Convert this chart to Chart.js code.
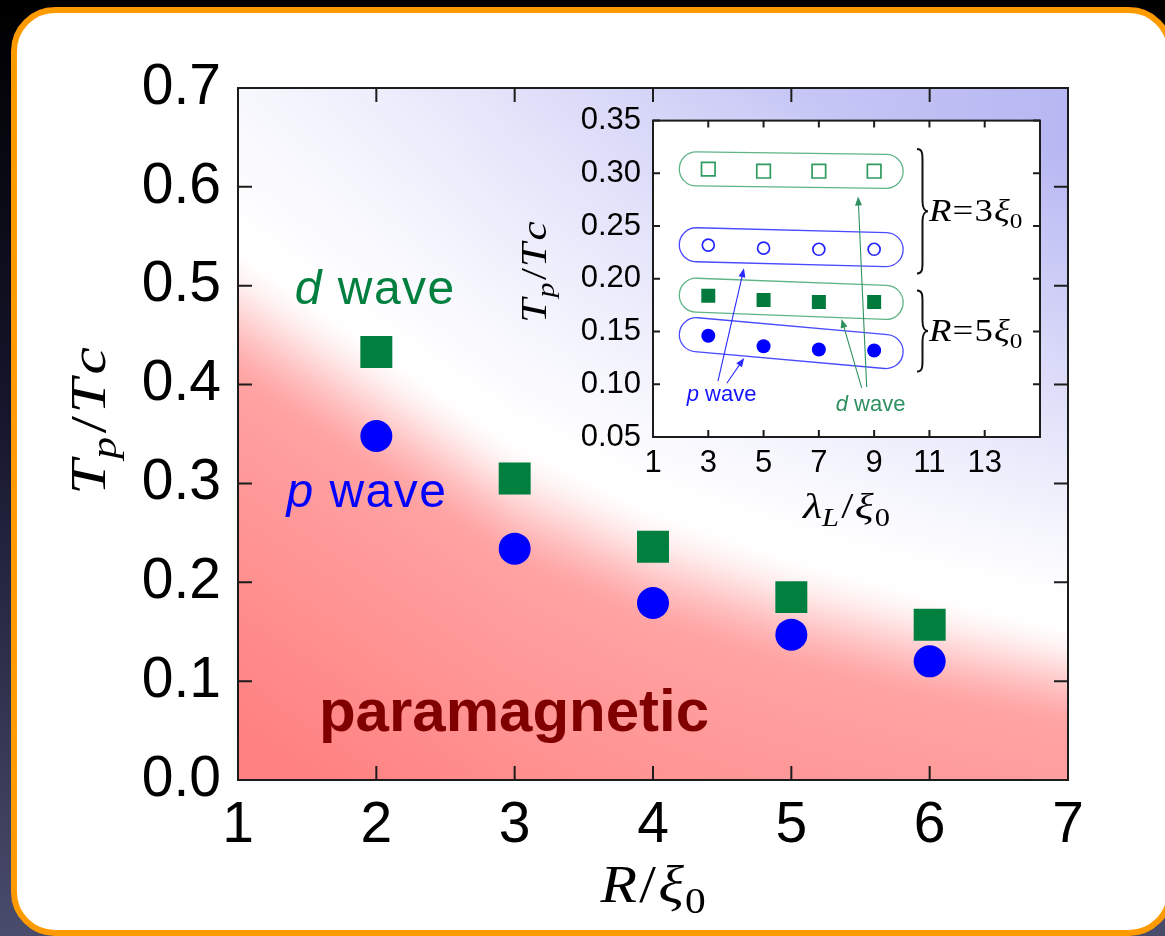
<!DOCTYPE html>
<html>
<head>
<meta charset="utf-8">
<script src="https://cdn.jsdelivr.net/npm/chart.js@4.4.1/dist/chart.umd.min.js"></script>
<style>
  html, body { margin: 0; padding: 0; width: 1165px; height: 936px; overflow: hidden; }
  body { position: relative; background: linear-gradient(to bottom, #000 0%, #16162e 45%, #4a4c6c 100%); }
  .frame { position: absolute; left: 11px; top: 7px; width: 1162px; height: 929px; box-sizing: border-box;
           border: 6px solid #ff9a00; border-radius: 44px; background: #fff; }
  #mainChart { position: absolute; left: 0; top: 0; }
  #insetChart { position: absolute; left: 500px; top: 90px; }
</style>
</head>
<body>
<div class="frame"></div>
<canvas id="mainChart" width="1165" height="936"></canvas>
<canvas id="insetChart" width="560" height="450"></canvas>
<script>
const SANS = "'Liberation Sans', Arial, Helvetica, sans-serif";
const SERIF = "'Liberation Serif', 'Times New Roman', serif";

// main panel: Tp/Tc against R/xi0
const radius = [2, 3, 4, 5, 6];
const dWave = [0.433, 0.305, 0.236, 0.185, 0.157];
const pWave = [0.348, 0.234, 0.179, 0.147, 0.120];
const mainXTicks = [1, 2, 3, 4, 5, 6, 7];
const mainYTicks = [0, 0.1, 0.2, 0.3, 0.4, 0.5, 0.6, 0.7];

// inset: Tp/Tc against lambda_L/xi0
const lambda = [3, 5, 7, 9];
const dWaveR3 = [0.304, 0.302, 0.302, 0.302];
const pWaveR3 = [0.232, 0.229, 0.228, 0.228];
const dWaveR5 = [0.184, 0.180, 0.178, 0.178];
const pWaveR5 = [0.146, 0.136, 0.133, 0.132];
const insetXTicks = [1, 3, 5, 7, 9, 11, 13, 15];
const insetYTicks = [0.05, 0.10, 0.15, 0.20, 0.25, 0.30, 0.35];

// centre of the red/white crossover in the background shading
const bandR = [1, 2, 3, 4, 5, 6, 7];
const bandTp = [0.47, 0.375, 0.28, 0.215, 0.17, 0.135, 0.105];

const pts = (xs, ys) => xs.map((v, i) => ({ x: v, y: ys[i] }));
const clamp = v => Math.max(0, Math.min(1, v));
const smooth = v => { v = clamp(v); return v * v * (3 - 2 * v); };

function bandAt(r) {
  if (r <= bandR[0]) return bandTp[0];
  for (let i = 1; i < bandR.length; i++) {
    if (r <= bandR[i]) {
      const f = (r - bandR[i - 1]) / (bandR[i] - bandR[i - 1]);
      return bandTp[i - 1] + f * (bandTp[i] - bandTp[i - 1]);
    }
  }
  return bandTp[bandTp.length - 1];
}

// LaTeX-ish math label: parts drawn left to right, centred on (cx, cy) baseline
function mathText(ctx, parts, cx, cy, size, opt) {
  opt = opt || {};
  const fontOf = p => (p.italic ? 'italic ' : '') + Math.round(size * (p.sub ? 0.7 : 1)) + 'px ' + SERIF;
  ctx.save();
  ctx.translate(cx, cy);
  if (opt.rotate) ctx.rotate(opt.rotate);
  ctx.scale(opt.stretch || 1.2, 1);
  let total = 0;
  parts.forEach(p => { ctx.font = fontOf(p); total += (p.gap || 0) + ctx.measureText(p.t).width; });
  let x = opt.align === 'left' ? 0 : -total / 2;
  ctx.fillStyle = opt.color || '#000';
  ctx.textAlign = 'left';
  ctx.textBaseline = 'alphabetic';
  parts.forEach(p => {
    ctx.font = fontOf(p);
    x += p.gap || 0;
    ctx.fillText(p.t, x, p.sub ? size * 0.22 : 0);
    x += ctx.measureText(p.t).width;
  });
  ctx.restore();
}

function richLabel(ctx, parts, x, y, size, color, weight, spacing) {
  ctx.save();
  ctx.fillStyle = color;
  ctx.textAlign = 'left';
  ctx.textBaseline = 'alphabetic';
  ctx.letterSpacing = (spacing || 0) + 'px';
  parts.forEach(p => {
    ctx.font = (p.italic ? 'italic ' : '') + (weight || 'normal') + ' ' + size + 'px ' + SANS;
    ctx.fillText(p.t, x, y);
    x += ctx.measureText(p.t).width;
  });
  ctx.restore();
}

// box round the plot area with inward ticks on all four sides
function drawBox(chart, len, width) {
  const { ctx, chartArea: a, scales: { x, y } } = chart;
  ctx.save();
  ctx.strokeStyle = '#1c1c1c';
  ctx.lineWidth = width;
  ctx.strokeRect(a.left, a.top, a.right - a.left, a.bottom - a.top);
  ctx.beginPath();
  x.ticks.forEach(t => {
    const px = x.getPixelForValue(t.value);
    ctx.moveTo(px, a.bottom); ctx.lineTo(px, a.bottom - len);
    ctx.moveTo(px, a.top); ctx.lineTo(px, a.top + len);
  });
  y.ticks.forEach(t => {
    const py = y.getPixelForValue(t.value);
    ctx.moveTo(a.left, py); ctx.lineTo(a.left + len, py);
    ctx.moveTo(a.right, py); ctx.lineTo(a.right - len, py);
  });
  ctx.stroke();
  ctx.restore();
}

const phaseBackground = {
  id: 'phaseBackground',
  beforeDraw(chart) {
    const { ctx, chartArea: a, scales: { x, y } } = chart;
    const w = Math.round(a.right - a.left), h = Math.round(a.bottom - a.top);
    const img = ctx.createImageData(w, h);
    const d = img.data;
    for (let i = 0; i < w; i++) {
      const r = x.getValueForPixel(a.left + i + 0.5);
      const b = bandAt(r);
      const side = (r - 1) / 6;
      const half = 0.075 - 0.02 * side;
      for (let j = 0; j < h; j++) {
        const t = y.getValueForPixel(a.top + j + 0.5);
        const dist = t - b;
        let R = 255, G = 255, B = 255;
        if (dist < half) {
          const f = smooth((half - dist) / (2 * half));
          const g = clamp((-dist - 0.03) / 0.4);
          const pink = 165 - 37 * g;
          G = B = 255 + (pink - 255) * f;
        } else if (dist > 0.08) {
          const k = clamp((dist - 0.08) / 0.45) * (0.35 + 0.65 * side);
          R = G = 255 - 72 * k;
          B = 255 - 12 * k;
        }
        const o = (j * w + i) * 4;
        d[o] = R; d[o + 1] = G; d[o + 2] = B; d[o + 3] = 255;
      }
    }
    ctx.putImageData(img, Math.round(a.left), Math.round(a.top));
  },
  afterDraw(chart) {
    const { ctx, scales: { x, y } } = chart;
    drawBox(chart, 14, 2);
    richLabel(ctx, [{ t: 'd', italic: true }, { t: ' wave' }], x.getPixelForValue(1.41), y.getPixelForValue(0.481), 48, '#007f3f', 'normal', 1.5);
    richLabel(ctx, [{ t: 'p', italic: true }, { t: ' wave' }], x.getPixelForValue(1.35), y.getPixelForValue(0.276), 48, '#0000ff', 'normal', 1.5);
    richLabel(ctx, [{ t: 'paramagnetic' }], x.getPixelForValue(1.585), y.getPixelForValue(0.0496), 60, '#800000', 'bold', 0);
    mathText(ctx, [{ t: 'R', italic: true }, { t: '/', gap: 2 }, { t: 'ξ', italic: true, gap: 2 }, { t: '0', sub: true, gap: 1 }],
      (x.left + x.right) / 2, 902, 52, { stretch: 1.15 });
    mathText(ctx, [{ t: 'T', italic: true }, { t: 'p', italic: true, sub: true, gap: 1 }, { t: '/', gap: 3 },
      { t: 'T', italic: true, gap: 2 }, { t: 'c', italic: true, gap: 3 }],
      105, 421, 50, { rotate: -Math.PI / 2, stretch: 1.25 });
  }
};

new Chart(document.getElementById('mainChart'), {
  type: 'scatter',
  data: {
    datasets: [
      { label: 'd wave', data: pts(radius, dWave), pointStyle: 'rect', pointRadius: 22.6, backgroundColor: '#007f3f', borderWidth: 0 },
      { label: 'p wave', data: pts(radius, pWave), pointStyle: 'circle', pointRadius: 16, backgroundColor: '#0000ff', borderWidth: 0 }
    ]
  },
  options: {
    responsive: false,
    animation: false,
    events: [],
    layout: { padding: { top: 88, right: 97, left: 0, bottom: 0 } },
    plugins: { legend: { display: false }, tooltip: { enabled: false } },
    scales: {
      x: {
        type: 'linear', min: 1, max: 7,
        afterBuildTicks: s => { s.ticks = mainXTicks.map(v => ({ value: v })); },
        afterFit: s => { s.height = 156; },
        grid: { display: false, drawTicks: false }, border: { display: false },
        ticks: { color: '#000', padding: 12, font: { family: SANS, size: 57 }, maxRotation: 0, autoSkip: false, callback: v => String(v) }
      },
      y: {
        min: 0, max: 0.7,
        afterBuildTicks: s => { s.ticks = mainYTicks.map(v => ({ value: v })); },
        afterFit: s => { s.width = 238; },
        grid: { display: false, drawTicks: false }, border: { display: false },
        ticks: { color: '#000', padding: 17, font: { family: SANS, size: 57 }, autoSkip: false, callback: v => v.toFixed(1) }
      }
    }
  },
  plugins: [phaseBackground]
});

// inset annotations, all in inset data coordinates
const insetArrows = [
  { from: [3.35, 0.103], to: [4.29, 0.210], color: '#2a2aff' },
  { from: [3.67, 0.101], to: [4.30, 0.125], color: '#2a2aff' },
  { from: [8.55, 0.0965], to: [7.82, 0.162], color: '#2f9060' },
  { from: [8.73, 0.0974], to: [8.42, 0.278], color: '#2f9060' }
];
const insetBraces = [
  { lam: 10.55, top: 0.323, bottom: 0.205, text: '3' },
  { lam: 10.55, top: 0.189, bottom: 0.112, text: '5' }
];

function capsule(chart, index, color) {
  const { ctx } = chart;
  const el = chart.getDatasetMeta(index).data;
  const p0 = el[0], p1 = el[el.length - 1];
  const ang = Math.atan2(p1.y - p0.y, p1.x - p0.x);
  const len = Math.hypot(p1.x - p0.x, p1.y - p0.y);
  const ext = 29, rad = 17;
  ctx.save();
  ctx.translate(p0.x, p0.y);
  ctx.rotate(ang);
  ctx.strokeStyle = color;
  ctx.lineWidth = 1.3;
  ctx.beginPath();
  ctx.roundRect(-ext, -rad, len + 2 * ext, 2 * rad, rad);
  ctx.stroke();
  ctx.restore();
}

function arrow(ctx, x0, y0, x1, y1, color) {
  const ang = Math.atan2(y1 - y0, x1 - x0);
  ctx.save();
  ctx.strokeStyle = color;
  ctx.fillStyle = color;
  ctx.lineWidth = 1.1;
  ctx.beginPath();
  ctx.moveTo(x0, y0);
  ctx.lineTo(x1 - 6 * Math.cos(ang), y1 - 6 * Math.sin(ang));
  ctx.stroke();
  ctx.translate(x1, y1);
  ctx.rotate(ang);
  ctx.beginPath();
  ctx.moveTo(0, 0);
  ctx.lineTo(-9, -3.5);
  ctx.lineTo(-9, 3.5);
  ctx.closePath();
  ctx.fill();
  ctx.restore();
}

function brace(ctx, x, y0, y1) {
  const w = 11, ym = (y0 + y1) / 2;
  ctx.save();
  ctx.strokeStyle = '#111';
  ctx.lineWidth = 2;
  ctx.beginPath();
  ctx.moveTo(x, y0);
  ctx.bezierCurveTo(x + w * 0.55, y0, x + w * 0.5, y0 + 6, x + w * 0.5, y0 + 14);
  ctx.lineTo(x + w * 0.5, ym - 10);
  ctx.bezierCurveTo(x + w * 0.5, ym - 3, x + w * 0.75, ym, x + w, ym);
  ctx.bezierCurveTo(x + w * 0.75, ym, x + w * 0.5, ym + 3, x + w * 0.5, ym + 10);
  ctx.lineTo(x + w * 0.5, y1 - 14);
  ctx.bezierCurveTo(x + w * 0.5, y1 - 6, x + w * 0.55, y1, x, y1);
  ctx.stroke();
  ctx.restore();
}

const insetDecor = {
  id: 'insetDecor',
  beforeDraw(chart) {
    const { ctx, chartArea: a } = chart;
    ctx.save();
    ctx.fillStyle = '#fff';
    ctx.fillRect(a.left, a.top, a.right - a.left, a.bottom - a.top);
    ctx.restore();
  },
  beforeDatasetsDraw(chart) {
    capsule(chart, 0, '#5fb487');
    capsule(chart, 1, '#4a4aff');
    capsule(chart, 2, '#5fb487');
    capsule(chart, 3, '#4a4aff');
  },
  afterDraw(chart) {
    const { ctx, scales: { x, y } } = chart;
    drawBox(chart, 7, 2);
    insetArrows.forEach(a => arrow(ctx, x.getPixelForValue(a.from[0]), y.getPixelForValue(a.from[1]),
      x.getPixelForValue(a.to[0]), y.getPixelForValue(a.to[1]), a.color));
    insetBraces.forEach(b => {
      const bx = x.getPixelForValue(b.lam);
      const y0 = y.getPixelForValue(b.top), y1 = y.getPixelForValue(b.bottom);
      brace(ctx, bx, y0, y1);
      mathText(ctx, [{ t: 'R', italic: true }, { t: '=', gap: 1 }, { t: b.text, gap: 1 }, { t: 'ξ', italic: true, gap: 1 }, { t: '0', sub: true }],
        bx + 12, (y0 + y1) / 2 + 10, 32, { align: 'left', stretch: 1.15 });
    });
    richLabel(ctx, [{ t: 'p', italic: true }, { t: ' wave' }], x.getPixelForValue(2.22), y.getPixelForValue(0.0844), 22, '#1414ff');
    richLabel(ctx, [{ t: 'd', italic: true }, { t: ' wave' }], x.getPixelForValue(7.61), y.getPixelForValue(0.075), 22, '#2f9060');
    mathText(ctx, [{ t: 'λ', italic: true }, { t: 'L', italic: true, sub: true }, { t: '/', gap: 2 }, { t: 'ξ', italic: true, gap: 1 }, { t: '0', sub: true, gap: 1 }],
      (x.left + x.right) / 2, 518 - 90, 36, { stretch: 1.22 });
    mathText(ctx, [{ t: 'T', italic: true }, { t: 'p', italic: true, sub: true, gap: 1 }, { t: '/', gap: 2 },
      { t: 'T', italic: true, gap: 1 }, { t: 'c', italic: true, gap: 2 }],
      546 - 500, 272 - 90, 36, { rotate: -Math.PI / 2, stretch: 1.2 });
  }
};

new Chart(document.getElementById('insetChart'), {
  type: 'scatter',
  data: {
    datasets: [
      { label: 'd wave, R=3', data: pts(lambda, dWaveR3), pointStyle: 'rect', pointRadius: 9.6, backgroundColor: 'rgba(255,255,255,0)', borderColor: '#2f9a60', borderWidth: 1.7 },
      { label: 'p wave, R=3', data: pts(lambda, pWaveR3), pointStyle: 'circle', pointRadius: 6, backgroundColor: 'rgba(255,255,255,0)', borderColor: '#2424ff', borderWidth: 1.7 },
      { label: 'd wave, R=5', data: pts(lambda, dWaveR5), pointStyle: 'rect', pointRadius: 9.9, backgroundColor: '#007a3d', borderWidth: 0 },
      { label: 'p wave, R=5', data: pts(lambda, pWaveR5), pointStyle: 'circle', pointRadius: 7, backgroundColor: '#0000ff', borderWidth: 0 }
    ]
  },
  options: {
    responsive: false,
    animation: false,
    events: [],
    layout: { padding: { top: 24, right: 20, left: 0, bottom: 0 } },
    plugins: { legend: { display: false }, tooltip: { enabled: false } },
    scales: {
      x: {
        type: 'linear', min: 1, max: 15,
        afterBuildTicks: s => { s.ticks = insetXTicks.map(v => ({ value: v })); },
        afterFit: s => { s.height = 103; },
        grid: { display: false, drawTicks: false }, border: { display: false },
        ticks: { color: '#000', padding: 8, font: { family: SANS, size: 31 }, maxRotation: 0, autoSkip: false, callback: v => v === 15 ? '' : String(v) }
      },
      y: {
        min: 0.05, max: 0.35,
        afterBuildTicks: s => { s.ticks = insetYTicks.map(v => ({ value: v })); },
        afterFit: s => { s.width = 153; },
        grid: { display: false, drawTicks: false }, border: { display: false },
        ticks: { color: '#000', padding: 12, font: { family: SANS, size: 31 }, autoSkip: false, callback: v => v.toFixed(2) }
      }
    }
  },
  plugins: [insetDecor]
});
</script>
</body>
</html>
